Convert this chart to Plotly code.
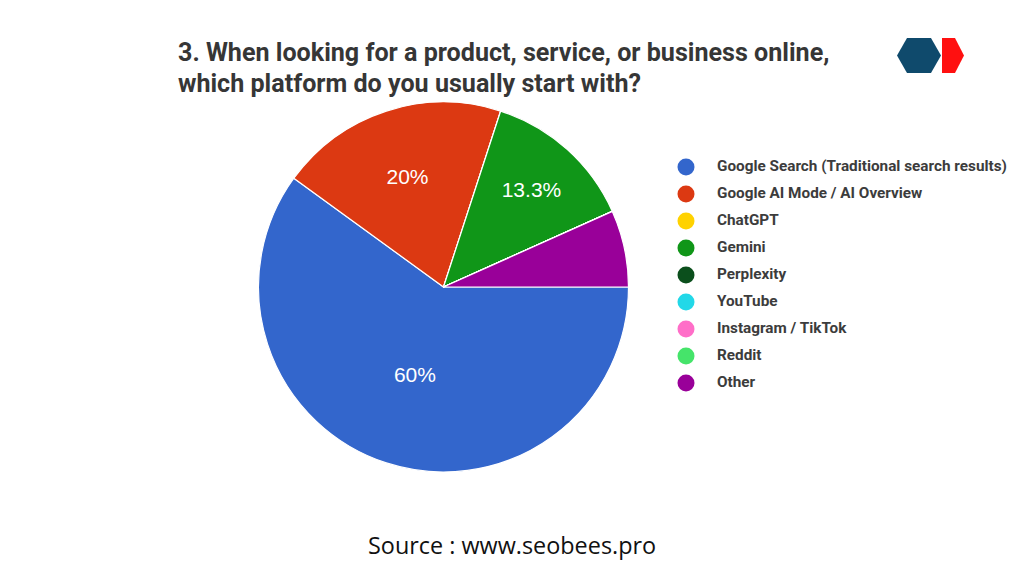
import plotly.graph_objects as go

# ---- data ----
categories = [
    "Google Search (Traditional search results)",
    "Google AI Mode / AI Overview",
    "ChatGPT",
    "Gemini",
    "Perplexity",
    "YouTube",
    "Instagram / TikTok",
    "Reddit",
    "Other",
]
shares = [60, 20, 0, 13.3, 0, 0, 0, 0, 6.7]
slice_labels = ["60%", "20%", "", "13.3%", "", "", "", "", ""]
colors = ["#3366cc", "#dc3912", "#ffd200", "#109618", "#0b4f1c",
          "#22d8e8", "#ff6ec8", "#45e46a", "#990099"]

title_lines = [
    "3. When looking for a product, service, or business online,",
    "which platform do you usually start with?",
]
source_text = "Source : www.seobees.pro"

# page has an 8px body margin; work in window pixels and shift
OFF = 8
W, H = 1024 - OFF, 576 - OFF


def px(x):
    return (x - OFF) / W


def py(y):
    return 1 - (y - OFF) / H


fig = go.Figure()

# pie
cx, cy, r = 443.5, 287, 185
fig.add_trace(go.Pie(
    labels=categories,
    values=shares,
    text=slice_labels,
    textinfo="text",
    sort=False,
    direction="clockwise",
    rotation=90,
    marker=dict(colors=colors, line=dict(color="white", width=1.2)),
    textposition="inside",
    insidetextorientation="horizontal",
    insidetextfont=dict(family="Liberation Sans, Arial", size=21, color="white"),
    domain=dict(x=[px(cx - r), px(cx + r)], y=[py(cy + r), py(cy - r)]),
    showlegend=False,
    hoverinfo="skip",
))

# custom legend (circle markers + labels)
leg_x0 = 686
row_top, row_h = 167, 27
n = len(categories)
y_top_px = row_top - row_h / 2
y_bot_px = row_top + row_h * (n - 0.5)

fig.add_trace(go.Scatter(
    x=[0] * n, y=categories, mode="markers",
    marker=dict(size=17, color=colors, line=dict(width=0)),
    cliponaxis=False, showlegend=False, hoverinfo="skip",
))
fig.add_trace(go.Scatter(
    x=[31] * n, y=categories, mode="text", text=categories,
    textposition="middle right",
    textfont=dict(family="Roboto", size=15.3, color="#3c3c3c", weight=700),
    cliponaxis=False, showlegend=False, hoverinfo="skip",
))

annotations = []
for i, line in enumerate(title_lines):
    annotations.append(dict(
        text=line, xref="paper", yref="paper",
        x=px(176), y=py(53 + 30 * i),
        xanchor="left", yanchor="middle", showarrow=False,
        font=dict(family="Roboto", size=25.1, color="#363636", weight=700),
    ))
annotations.append(dict(
    text=source_text, xref="paper", yref="paper",
    x=px(512), y=py(545), xanchor="center", yanchor="middle", showarrow=False,
    font=dict(family="Open Sans", size=23.4, color="#111111"),
))


def P(x, y):
    return f"{px(x):.5f},{py(y):.5f}"


hexagon = "M " + " L ".join([P(897, 55.5), P(907, 38), P(931, 38), P(941, 55.5), P(931, 73), P(907, 73)]) + " Z"
red = "M " + " L ".join([P(942, 38), P(955, 38), P(964, 55.5), P(955, 73), P(942, 73)]) + " Z"
shapes = [
    dict(type="path", path=hexagon, xref="paper", yref="paper",
         fillcolor="#0f4a6c", line=dict(width=0)),
    dict(type="path", path=red, xref="paper", yref="paper",
         fillcolor="#ff1010", line=dict(width=0)),
]

fig.update_layout(
    width=W, height=H,
    margin=dict(l=0, r=0, t=0, b=0),
    paper_bgcolor="white", plot_bgcolor="rgba(0,0,0,0)",
    xaxis=dict(domain=[px(leg_x0), 1.0], range=[0, 1024 - leg_x0], visible=False, fixedrange=True),
    yaxis=dict(domain=[py(y_bot_px), py(y_top_px)], type="category",
               categoryorder="array", categoryarray=categories,
               range=[n - 0.5, -0.5], visible=False, fixedrange=True),
    annotations=annotations,
    shapes=shapes,
    showlegend=False,
)

fig.write_html("out.html")
